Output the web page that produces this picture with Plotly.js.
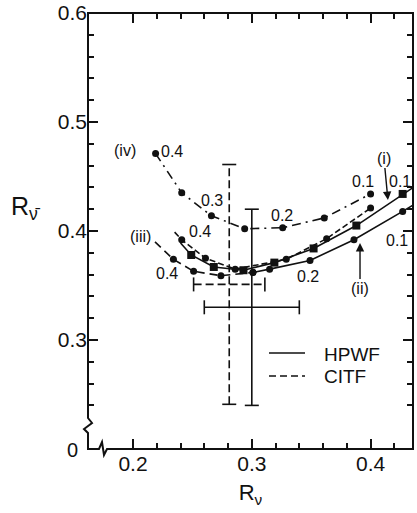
<!DOCTYPE html>
<html>
<head>
<meta charset="utf-8">
<script src="https://cdn.plot.ly/plotly-3.0.1.min.js"></script>
<style>
  html, body { margin: 0; padding: 0; background: #fff; }
  #chart { width: 417px; height: 513px; }
</style>
</head>
<body>
<div id="chart"></div>
<script>
// Curve (iv): dash-dot, marked every 0.05 from 0.4 down to 0.1
const ivX = [0.219, 0.241, 0.266, 0.294, 0.326, 0.361, 0.400];
const ivY = [0.471, 0.435, 0.414, 0.402, 0.403, 0.412, 0.434];

// Curve (i): dashed with dots
const iX = [0.241, 0.261, 0.286, 0.329, 0.363, 0.400];
const iY = [0.392, 0.375, 0.365, 0.374, 0.393, 0.421];
const iLeadX = [0.235], iLeadY = [0.399];

// Solid curve with squares
const sqX = [0.249, 0.268, 0.293, 0.319, 0.352, 0.388, 0.427];
const sqY = [0.378, 0.367, 0.364, 0.371, 0.384, 0.405, 0.434];
const sqLeadX = [0.240], sqLeadY = [0.389];
const sqTailX = [0.436], sqTailY = [0.440];

// Curve (iii): dashed, left branch
const iiiX = [0.234, 0.251, 0.274, 0.301];
const iiiY = [0.374, 0.363, 0.359, 0.362];
const iiiLeadX = [0.2185], iiiLeadY = [0.390];

// Curve (ii): solid, right branch
const iiX = [0.301, 0.315, 0.349, 0.386, 0.427];
const iiY = [0.362, 0.365, 0.373, 0.392, 0.418];
const iiTailX = [0.436], iiTailY = [0.424];

// Measurements with errors
const expNames = ['HPWF', 'CITF'];
const expX = [0.300, 0.281];
const expY = [0.330, 0.351];
const expXErr = [0.040, 0.030];
const expYErr = [0.090, 0.110];
const expDash = ['solid', '8px,4px'];

// Axis ticks
const yTickVals = [0.3, 0.4, 0.5, 0.6];
const yTickText = ['0.3', '0.4', '0.5', '0.6'];
const yMinorVals = [0.24, 0.26, 0.28, 0.32, 0.34, 0.36, 0.38, 0.42, 0.44, 0.46, 0.48, 0.52, 0.54, 0.56, 0.58];
const xTickVals = [0.2, 0.3, 0.4];
const xTickText = ['0.2', '0.3', '0.4'];
const xMinorVals = [0.22, 0.24, 0.26, 0.28, 0.32, 0.34, 0.36, 0.38, 0.42];

const FONT = 'Liberation Sans, Arial, sans-serif';
const BLACK = '#111';

function curveLine(x, y, dash) {
  return { x, y, mode: 'lines', type: 'scatter', hoverinfo: 'skip',
           line: { color: BLACK, width: 1.6, dash } };
}
function curveMarks(x, y, symbol, size) {
  return { x, y, mode: 'markers', type: 'scatter', hoverinfo: 'skip',
           marker: { color: BLACK, symbol, size } };
}

const traces = [
  curveLine(ivX, ivY, '9px,5px,2px,5px'),
  curveMarks(ivX, ivY, 'circle', 7),
  curveLine([...iLeadX, ...iX], [...iLeadY, ...iY], '6px,3px'),
  curveMarks(iX, iY, 'circle', 7),
  curveLine([...sqLeadX, ...sqX, ...sqTailX], [...sqLeadY, ...sqY, ...sqTailY], 'solid'),
  curveMarks(sqX, sqY, 'square', 8),
  curveLine([...iiiLeadX, ...iiiX], [...iiiLeadY, ...iiiY], '8px,5px'),
  curveMarks(iiiX, iiiY, 'circle', 7),
  curveLine([...iiX, ...iiTailX], [...iiY, ...iiTailY], 'solid'),
  curveMarks(iiX, iiY, 'circle', 7)
];

// Cross-shaped error bars, capped at both ends
expNames.forEach((name, k) => {
  const cx = expX[k], cy = expY[k], ex = expXErr[k], ey = expYErr[k];
  traces.push({
    x: [cx, cx], y: [cy - ey, cy + ey], mode: 'lines+markers', type: 'scatter',
    name, hoverinfo: 'skip',
    line: { color: BLACK, width: 1.6, dash: expDash[k] },
    marker: { symbol: 'line-ew', size: 10, color: BLACK, line: { color: BLACK, width: 1.6 } }
  });
  traces.push({
    x: [cx - ex, cx + ex], y: [cy, cy], mode: 'lines+markers', type: 'scatter',
    name, hoverinfo: 'skip',
    line: { color: BLACK, width: 1.6, dash: expDash[k] },
    marker: { symbol: 'line-ns', size: 10, color: BLACK, line: { color: BLACK, width: 1.6 } }
  });
});

// Frame with broken-axis zigzags near the origin (paper coordinates)
const W = 325, H = 436;
const px = p => (p - 88) / W;
const py = p => (449 - p) / H;
const framePath =
  `M 0,1 L 1,1 L 1,0 L ${px(107)},0 L ${px(104)},${py(455)} L ${px(102)},${py(442)} L ${px(99)},0 ` +
  `L 0,0 L 0,${py(433)} L ${px(84)},${py(429)} L ${px(92)},${py(423)} L 0,${py(418)} Z`;

const shapes = [
  { type: 'path', xref: 'paper', yref: 'paper', path: framePath,
    line: { color: BLACK, width: 2 }, layer: 'above' },
  // legend samples
  { type: 'line', xref: 'paper', yref: 'paper', x0: px(269), x1: px(305), y0: py(353), y1: py(353),
    line: { color: BLACK, width: 1.6 } },
  { type: 'line', xref: 'paper', yref: 'paper', x0: px(269), x1: px(305), y0: py(376), y1: py(376),
    line: { color: BLACK, width: 1.6, dash: '7px,4px' } }
];

const lab = (text, x, y, size) => ({
  text, x, y, xref: 'x', yref: 'y', showarrow: false,
  font: { family: FONT, size: size || 16, color: BLACK }
});

const annotations = [
  lab('(iv)', 0.193, 0.474),
  lab('0.4', 0.233, 0.4725),
  lab('0.3', 0.2665, 0.428),
  lab('0.2', 0.3254, 0.414),
  lab('0.1', 0.3936, 0.445),
  lab('0.1', 0.4248, 0.445),
  lab('0.1', 0.4222, 0.391),
  lab('0.2', 0.3473, 0.358),
  lab('(iii)', 0.206, 0.3954),
  lab('0.4', 0.2286, 0.3606),
  lab('0.4', 0.2564, 0.3991),
  { text: '(i)', x: 0.4146, y: 0.4284, ax: -4, ay: -42, xref: 'x', yref: 'y',
    showarrow: true, arrowhead: 2, arrowsize: 1.2, arrowwidth: 1.4, arrowcolor: BLACK,
    font: { family: FONT, size: 16, color: BLACK } },
  { text: '(ii)', x: 0.3911, y: 0.389, ax: 0, ay: 46, xref: 'x', yref: 'y',
    showarrow: true, arrowhead: 2, arrowsize: 1.2, arrowwidth: 1.4, arrowcolor: BLACK,
    font: { family: FONT, size: 16, color: BLACK } },
  // legend text
  { text: 'HPWF', x: px(322), y: py(354), xref: 'paper', yref: 'paper', xanchor: 'left', yanchor: 'middle',
    showarrow: false, font: { family: FONT, size: 19, color: BLACK } },
  { text: 'CITF', x: px(322), y: py(376), xref: 'paper', yref: 'paper', xanchor: 'left', yanchor: 'middle',
    showarrow: false, font: { family: FONT, size: 19, color: BLACK } },
  // shared origin label of the broken axes
  { text: '0', x: px(72), y: py(450), xref: 'paper', yref: 'paper', xanchor: 'center', yanchor: 'middle',
    showarrow: false, font: { family: FONT, size: 20, color: BLACK } },
  // y-axis title, written horizontally
  { text: 'R<sub>ν̄</sub>', x: px(9), y: py(208), xref: 'paper', yref: 'paper',
    xanchor: 'left', yanchor: 'middle', showarrow: false,
    font: { family: FONT, size: 25, color: BLACK } }
];

const axisCommon = {
  showgrid: false, zeroline: false, showline: false,
  ticks: 'inside', ticklen: 10, tickwidth: 2, tickcolor: BLACK, mirror: 'ticks',
  tickfont: { family: FONT, size: 21, color: BLACK },
  tickmode: 'array', fixedrange: true
};

const layout = {
  width: 417, height: 513,
  margin: { l: 88, r: 4, t: 13, b: 64 },
  paper_bgcolor: '#fff', plot_bgcolor: '#fff',
  showlegend: false,
  font: { family: FONT, color: BLACK },
  xaxis: Object.assign({}, axisCommon, {
    range: [0.1621, 0.4357],
    tickvals: xTickVals, ticktext: xTickText,
    minor: { tickmode: 'array', tickvals: xMinorVals, ticks: 'inside', ticklen: 6, tickwidth: 2, tickcolor: BLACK },
    title: { text: 'R<sub>ν</sub>', font: { family: FONT, size: 22, color: BLACK }, standoff: 10 }
  }),
  yaxis: Object.assign({}, axisCommon, {
    range: [0.2, 0.6],
    tickvals: yTickVals, ticktext: yTickText,
    minor: { tickmode: 'array', tickvals: yMinorVals, ticks: 'inside', ticklen: 6, tickwidth: 2, tickcolor: BLACK }
  }),
  shapes, annotations
};

Plotly.newPlot('chart', traces, layout, { staticPlot: true, displayModeBar: false });
</script>
</body>
</html>
